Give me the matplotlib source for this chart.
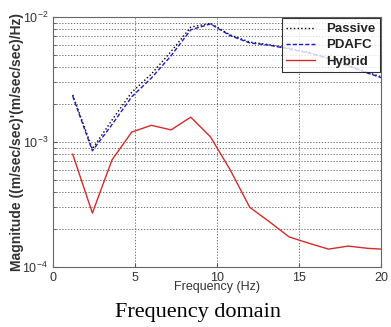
import numpy as np
import matplotlib.pyplot as plt
from matplotlib.ticker import LogLocator, NullFormatter, FixedLocator

# Frequency points (Hz), sampled every 1.2 Hz
freq = [1.2, 2.4, 3.6, 4.8, 6.0, 7.2, 8.4, 9.6, 10.8, 12.0, 13.2, 14.4, 15.6, 16.8, 18.0, 19.2, 20.4]

passive = [2.38e-3, 8.8e-4, 1.5e-3, 2.5e-3, 3.5e-3, 5.3e-3, 8.3e-3, 8.9e-3, 7.2e-3, 6.3e-3,
           6.0e-3, 5.6e-3, 5.2e-3, 4.7e-3, 4.1e-3, 3.6e-3, 3.2e-3]
pdafc = [2.33e-3, 8.5e-4, 1.38e-3, 2.3e-3, 3.25e-3, 4.9e-3, 7.9e-3, 8.8e-3, 7.1e-3, 6.2e-3,
         5.95e-3, 5.55e-3, 5.15e-3, 4.65e-3, 4.05e-3, 3.55e-3, 3.15e-3]
hybrid = [8.0e-4, 2.7e-4, 7.2e-4, 1.2e-3, 1.36e-3, 1.25e-3, 1.58e-3, 1.1e-3, 6.0e-4, 3.0e-4,
          2.3e-4, 1.74e-4, 1.55e-4, 1.39e-4, 1.47e-4, 1.41e-4, 1.38e-4]

xticks = [0, 5, 10, 15, 20]

plt.rcParams['font.family'] = ['Liberation Sans', 'DejaVu Sans']
txt = '#333333'

fig = plt.figure(figsize=(3.91, 3.27), dpi=100)
ax = fig.add_axes([0.1356, 0.1835, 0.8388, 0.7645])

ax.semilogy(freq, passive, color='black', linestyle=':', lw=1.0, label='Passive')
ax.semilogy(freq, pdafc, color='#1a1acc', linestyle='--', lw=1.0, dashes=(3, 1.5), label='PDAFC')
ax.semilogy(freq, hybrid, color='#d42a2a', linestyle='-', lw=1.0, label='Hybrid')

ax.set_xlim(0, 20)
ax.set_ylim(1e-4, 1e-2)
ax.xaxis.set_major_locator(FixedLocator(xticks))
ax.yaxis.set_major_locator(LogLocator(base=10, numticks=5))
ax.yaxis.set_minor_locator(LogLocator(base=10, subs=np.arange(2, 10), numticks=20))
ax.yaxis.set_minor_formatter(NullFormatter())

ax.grid(True, which='both', axis='y', color='#555555', linestyle=(0, (1.5, 2)), lw=0.6)
ax.grid(True, which='major', axis='x', color='#555555', linestyle=(0, (1.5, 2)), lw=0.6)

ax.tick_params(which='both', direction='in', colors='#555555', labelcolor=txt, labelsize=9)
ax.tick_params(which='minor', length=2)
ax.tick_params(which='major', length=3)
for s in ax.spines.values():
    s.set_color('#666666')
    s.set_linewidth(0.8)

ax.set_xlabel('Frequency (Hz)', fontsize=9, color=txt, labelpad=-2)
ax.set_ylabel("Magnitude ((m/sec/sec)'(m/sec/sec)/Hz)", fontsize=10, color=txt,
              fontweight='bold', labelpad=-1)

leg = ax.legend(loc='upper right', fontsize=9.5, frameon=True, fancybox=False,
                borderaxespad=0.1, handlelength=2.2, handletextpad=0.8,
                labelspacing=0.3, borderpad=0.35)
leg.get_frame().set_edgecolor('black')
leg.get_frame().set_linewidth(0.8)
for t in leg.get_texts():
    t.set_color('#222222')
    t.set_fontweight('bold')

fig.text(0.507, 0.043, 'Frequency domain', family='Liberation Serif', fontsize=16,
         ha='center', va='center', color='black')

fig.savefig('out.png', dpi=100)
